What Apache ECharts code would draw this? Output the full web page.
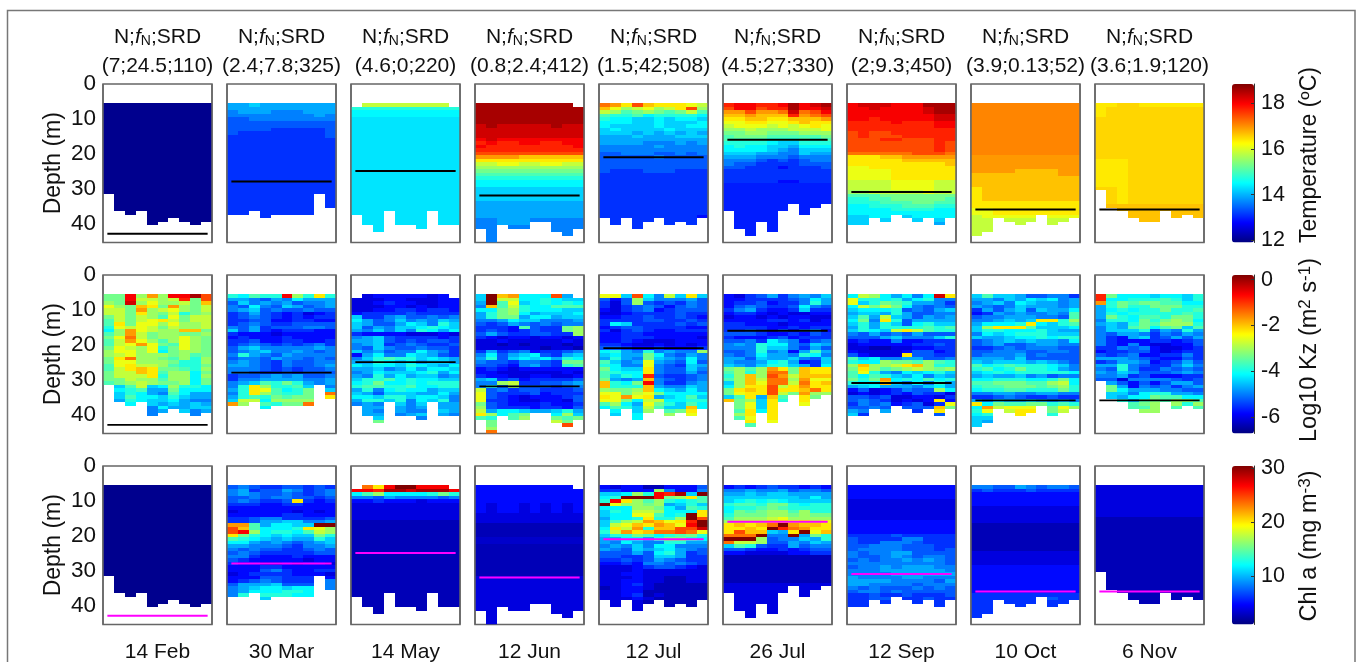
<!DOCTYPE html>
<html>
<head>
<meta charset="utf-8">
<style>html,body{margin:0;padding:0;background:#fff}#c{width:1358px;height:662px}</style>
<script src="https://cdn.jsdelivr.net/npm/echarts@6/dist/echarts.min.js"></script>
</head>
<body>
<div id="c"></div>
<script>
// Dates, header values and depths
const dates = ['14 Feb','30 Mar','14 May','12 Jun','12 Jul','26 Jul','12 Sep','10 Oct','6 Nov'];
const headerValues = ['(7;24.5;110)','(2.4;7.8;325)','(4.6;0;220)','(0.8;2.4;412)','(1.5;42;508)','(4.5;27;330)','(2;9.3;450)','(3.9;0.13;52)','(3.6;1.9;120)'];
const srdLineDepth = [43,28,25,32,21,16,31,36,36];
const srdLineSpan = [0.4,9.6];
const depthTicks = [0,10,20,30,40];
const surfaceDepth = [
 [5.5,5.5,5.5,5.5,5.5,5.5,5.5,5.5,5.5,5.5],[5.5,5.5,5.5,5.5,5.5,5.5,5.5,5.5,5.5,5.5],
 [6.5,5.5,5.5,5.5,5.5,5.5,5.5,5.5,5.5,6.5],[5.5,5.5,5.5,5.5,5.5,5.5,5.5,5.5,5.5,6.5],
 [5.5,5.5,5.5,5.5,5.5,5.5,5.5,5.5,5.5,5.5],[5.5,5.5,5.5,5.5,5.5,5.5,5.5,5.5,5.5,5.5],
 [5.5,5.5,5.5,5.5,5.5,5.5,5.5,5.5,5.5,5.5],[5.5,5.5,5.5,5.5,5.5,5.5,5.5,5.5,5.5,5.5],
 [5.5,5.5,5.5,5.5,5.5,5.5,5.5,5.5,5.5,5.5]];
const bottomDepth = [
 [31.5,36.5,37.5,36.5,40.5,39.5,38.5,39.5,40.5,39.5],
 [37.5,37.5,36.5,38.5,37.5,37.5,37.5,37.5,31.5,35.5],
 [37.5,40.5,42.5,36.5,40.5,40.5,41.5,36.5,40.5,40.5],
 [41.5,45.5,40.5,41.5,41.5,39.5,39.5,42.5,43.5,41.5],
 [38.5,40.5,38.5,41.5,39.5,38.5,40.5,39.5,40.5,38.5],
 [36.5,41.5,43.5,39.5,42.5,36.5,34.5,37.5,35.5,34.5],
 [40.5,40.5,38.5,39.5,37.5,38.5,39.5,38.5,40.5,38.5],
 [43.5,42.5,38.5,39.5,40.5,39.5,37.5,40.5,39.5,38.5],
 [30.5,35.5,36.5,38.5,39.5,39.5,36.5,38.5,37.5,38.5]];

// Cell values: one letter per 1 m depth bin and profile, a (lowest) to z (highest) of each row's colour range;
// a capital sits half a step above its lower-case letter.
// "abc*3" repeats a row; a single letter fills the whole row.
const T_14Feb=['a*40'];
const T_30Mar=['hhihhhhhhh','hhhhhhhhhh','ghhhggghhh','gggggggghg','ffgggggggg','f*2','ffffeeeeef','feeeeeeeef','eeeeeeeeef','e*30'];
const T_14May=['o','k','j','j','I*36'];
const T_12Jun=['yyyyyyyyyy*6','xyxxxxxyxx','xxxxxxxxxx*3','wxwwwwwwww','vwvvwwvvww','wvvvvvvvvw','vvvvvvvvvv','uuuuuuuuuu','ssssrrrrrr','qqqqqqqqqq','ooppooppoo','n','m','l','k','j','j','i*4','h*5','gghhhggggg*2','g*8'];
const T_12Jul=['tsqurqqqpo','rpnopnoqun','onlmnmlmol','lkkljkkkkj','kjjiijijji','jjjiijiiij','jiiiijiijj','ijiiiijiii','iiihihihih','hhhihhhiii','hhhhhhhhhh','hhhhggghgh','ggggghgggg','gggggggggg','ffgggffgfg','fffffgffff','f*3','feeefffeee','e*12','eeeeeeeeed*4','D*10'];
const T_26Jul=['vwwvvwywxy','uwwuvvywwx','ssusstxtuw','rrsrrrvstu','qqrrqqrrrs','ppqqppqrqq','opppopopqp','nnonnnooop','mmnnmmmnnn','lmmmlllllm','llllkkklkl','kkkkjiikkk','jkjjiihjjj','jjjjihgiii','iiihhggihh','hhhgggfggg','gggfefefgg','gffeeeefff','ffeeedeeef','e*3','eeeeeddeee','D*19'];
const T_12Sep=['wxxxwwwyyy','wwxwwwwxyy','wwwwwwwxyy','wwwwwwwwxx','wwvwwwwwxx','vvvvwvvvww','vvvvvvvvww','vvvvvvvvvv','uvuuvvvvvv','uvuuuvvvvv','uuuvvuuuvv','uuuuuuuuvu*3','ttttttuuut','qqqrrsssss','qqqqqrrrrr','qqqqqqqqqr','ppqqqqqqqq','ppppqqqqqq*3','ooooppppoo*3','nnooooopoo','lllmmmmmmm','kkllmmmmml','kkklllmmll','jjkkklllkk','jjjjkkkkjj','jjjjjjjjjj','iijjiijjjj','iiiiiiiiii','iiiihiiihi*7'];
const T_10Oct=['S*15','s*4','ssssrrrrss','rrrrrrrrss','r*3','qrrrrrrrrr*4','qqqqqqqqqq*2','ppqqqqqqqq*2','oppppppppp','o*10'];
const T_6Nov=['qqQQqqqqqq','qQQQQQQQQQ*3','Q*12','qqqQQQQQQQ*8','QQqQQQQQQQ*5','r*11'];
const K_14Feb=['mmwnsnwwyu','mmwoonovmu','nmxnpnnomr','pnmrqmsnmo','oomsnopnmo','oomqnmokmn','momonlpmoo','lomopqomoo','lqmppnpnno','kpopomonno','jnsponnrrm','lnsomnnmmn','mptomnnpnm','lospnlnpnm','lopspmlpnm','mponpkmpnm','nppnpjmnnm','nopnnnmnlm','mqtnnmlnkn','mppnnnmkkn','lpqoonlkkm','loqrqmmlkn','moorqlnnjm','moooqknnjn','mmonnlnnjm','lmnonmmnjm','xiloijnkkj','xjklhhmjjj','xikjhgljhh','xiljjikihh','xhkjiijhgg','xxjiihihih','xxxggjhhii','xxxgghhigh','xxxggghhgh','xxxghhxhgh'];
const K_30Mar=['kjlkkwnkqk','hhgfhgjhhh','fighghfggh','gfjgfihfgh','ghifgffgff','efhfedecde','efgfededee','eeffddeedd','efgfeeffff','gfhefffggf','ifhedeeedd','edddcddddd','dedddedddd','eefddeedde','efgfefefge','fhiggggghg','fghigghgfg','gkhgfhgggg','fggfhggfgf','ghgfegffgg','hhgfegffgh','gggfefeffg','ggfeefefff','effghghffg','egghhhhggh','ghilkmkhgh','gkqnkklixg','hkqpljkmxi','gkqnlkkmxt','hklkmlmmxq','ioojnnnnxx','snnlkmmtxx','xxxjxxxxxx'];
const K_14May=['xcdddddcdx','cccddcccdd','ccdeddccdd','cccddcdcdd','ccddeedeed','deeeefeeee','ieeghffgfg','jhfgighgih','ihffhjigki','ifhgiijkji','hgigigkjhj','eddddcccdc','ghifeeeede','hhifefeffe','ghiefgfeef','gfigffgffe','ighfggjhge','dhjggjihfe','giklkkijih','hhkjijhiih','jijjikjihj','hhighjhjji','ghjiiijkhj','hgkhjhiigh','ikkljkjjii','jkmjjkjkkk','kllkkljjkk','hkgjkjjhii','ihfiiihhjh','jjikkijjig','hkkikgjikg','ghgjigiihh','xhhxhghhhh','xhgxhgghih','xhhxghiihg','xxixxxgxxx','xxmxxxxxxx'];
const K_12Jun=['izrsjjjuhx','izoojjkjii','hzlpijkjkj','grlokjjlll','jjmnkjjjii','hkmnjhiiij','hkmmhjjhii','gghjiigggh','fefhgfgfgg','eeedlfeemn','efedefeemn','fhfeeffeen','edcddcddcd','ccdcccccdc','ccbcbcccbc','ccccccbccb','ehefgdeefg','gjfhijfehi','hkfijijhkj','gffeggfemm','ffedghfekl','dedcdddddd','ddccccccdc','eddccddccd','hiefdeeeef','ggnoeeffgh','gkfnfffefg','ofgeffeeef','pfeeefdeee','pfedcdddef','peedccddcf','mfedddedde','nfeeedeedf','ohjjihhikh','qnjlmlkjni','lkklnonmlm','xmxxxxxomx','xmxxxxxxux','xnxxxxxxxx','xtxxxxxxxx'];
const K_12Jul=['ppiujgoiqi','fdfniggghf','ecfnfefegf','ecefgfdfgf','dcefgdefff','ccdeeeefee','ddeefeefed','eeeeffeefe','ejieeeefef','deffeeeedd','ecefeddeee','ddeedddddd','ddeeeddddc','ddedcccddd','eedccdcdcd','ffeddeddde','jkhgkghggn','ijhhmjgfhg','hkhgmihgjg','lighphgfjf','kjggpgfeih','mjiiqgffig','lkjjqgffhf','likjvfeefg','mhghrgfefg','rkjmwgeegh','rkkkrhggih','nmmnrjihjh','ppmopmjjjj','qpspqhijli','ppmjoojjkk','lnjhpmkilj','jlkioliirj','ijxinxlmqx','xixjxxnxpx','xxxjxxxxxx'];
const K_26Jul=['dcefheghgi','ddeeeefgjh','deefdeegkh','dfgfeefjgf','egheddeiee','deedcdccdd','cddcdcddcc','ddddeedecd','eedddcdddd','eeeeddedee','eefedfdfgd','fffeddedfe','edddefdeee','ffgejhgdfg','ghgkjjgfih','gggkiigehf','ffgkghdhlh','gfgjhhgkjg','hhfihhigfi','hgghjkhdei','ihgikkihej','mnlnsqmrqq','lnknttmrqq','knrnusorrr','lnrottnspp','inrpttotqr','jnqquoqsqq','mqrquqqrtq','mpqquomsnn','ilqhrlnqmk','rmniqkxqox','xmpiqkxpxx','xmpiqkxxxx','xlqjqxxxxx','xnqxqxxxxx','xlpxqxxxxx','xxqxpxxxxx','xxlxxxxxxx'];
const K_12Sep=['jonjhjgjxq','pkkjkhjkgg','pikmlkhhge','jomomjgfgf','ijjjkfgfhi','hiihkhffgg','ilhoihfhgh','jmgqkfhhhh','ikhkifjkii','hkhkkkklkl','ikjioqolkk','gfhfgfhfff','fffhigggik','deddgddeee','cdddddeefe','ccbbccddee','dccccdffde','fdcccqffee','lijgghhffg','kjjnmmlnlk','nrnnoqrnkk','mqnlmnonmn','lpkhgjijki','ljlkihjgih','mkmsjkjljk','kjjrigjgkh','hijhhhgijh','dfcdegffnj','cdcdedfeec','ffefccddce','fgfecdcdqd','egfgdefcep','ffgfhfffrm','hgghfgeeqi','iegfggfffh'];
const K_10Oct=['iliihffgge','hhgihjijgh','ghigjihhgh','hgfgihhhgh','ehfhifihhj','dehghgghgl','fgghhhggfl','gghihiqqkn','hjjjkqjikl','inqqqliiij','ikkjjjkihh','gjijkkkiii','ihhijjkjkk','fghihihhgj','fghffghhgg','eefgfgggff','ffgggffggf','fggghfgfff','hhhgifffff','ihiiihihgf','ljklkkkjig','kljkmkkjhg','ijkjkkkkkj','hihhighfgg','jjkkkjjkmj','llmmmllnoj','kllmmmlmnk','jkkllkkkmk','gghhgghhgg','eefgfeefee','hgihhihghg','qjmllmmklk','jsopppqmpn','kpxoqqxmox','jkxxqxxkxx','iixxxxxxxx','ihxxxxxxxx','ixxxxxxxxx'];
const K_6Nov=['vmjjjijjik','vjjkkklkik','skmlmmlljj','hkmkkmmmkk','hjkjkkmkkl','hkjkkkkklk','hmkjllkmmk','gkkjmkmnmj','hihkmlnnnk','gihlmjlmil','giiikfhgkh','gfhhgegfhg','gedhiefhfh','gedddeedef','gedgdccddf','eegfgdccde','deeffdcdee','fefgddeege','hhhgfeddfe','efhhgdefhf','hhkgfeegig','gfkgeegfgf','hgihfffghg','gghefdddee','ffcggggfef','hhfdfdfhhf','xmhdgfgegh','xmjhhhggff','xiigjkkhhg','xihjjmlljj','xkkhlmlnnl','xxklmnxnkn','xxxllnxljl','xxxlnnxxxx'];
const C_14Feb=['a*40'];
const C_30Mar=['fgfeeffefe','gheffhgefg','ghgffgfefg','ffgfggffef','fgfeefqede','eeeddeeddd','d*1','cdddddcdcd','dddddeeddd','eefggeeeef','eefhhiiggh','sslhjjiizz','urljjjkqpn','uwnjkkjlon','qmkjijiimk','lkjihihhki','jjhghgfghi','hhgggfeggh','gfgffeefgf','fgfeeeeeff','ggedddeddd','fedddddcdd','eddccdcddc','dddeeddddd','dddfgeddee','cdeeeedddc','dddffeeeed','defgfeeeeg','fhhhifffxg','ghijjijjxg','ghjjjkkjxh','gkkkkkjjxx','xxxixxxxxx'];
const C_14May=['xtqwzzwwwx','wwvyyxyyyw','jlnjjjjkmk','ggfhggggfg','ddedddcddd','c*5','b*30'];
const C_12Jun=['d*5','dcddcdcdcd*3','c*3','b*4','B*2','b*9','c*14'];
const C_12Jul=['dcddbbdddf','eedddngddg','iijnkwvyiz','jkzzzwmnql','kwqnlnkjkl','zpnnmnhiki','jjjnnmjhlk','ikjoonjjjq','ijjppljkzq','hjjkqkknzu','ilnosrpqvz','ioprqsrpwz','jqoskrruux','kosqrttutp','ikkmljklmk','hhjjhkmmkj','hgjhggkkhh','ghgigjjggg','hgfihijhgf','fffhfjkhef','ffeefiihee','eefefhgfee','ddedggfgfe','cccdeffedc','cccdcccccc','ccddcccccc','cccdccbbcc','ccddccbbcc','ccdecbbbbb','bcddcbbbbb','ccddbbbbbb','ccdebcbbbb','cccdcbbbbb','ccccbbbbbb','xcccbxbbbx','xxxcxxxxxx'];
const C_26Jul=['dedefeeded','gghgghfggf','hhihiihhhh','iiiiiiihjh','ijkjkjiiii','kllkmmkjkk','jkklmlkkkk','jmlmnnlnkk','kmmmnnmnmm','lnnnopnnnn','noooqqpqop','qrqrtzsrrq','qqrqzvtsqq','qurrihqzpr','tttzggzhmk','zzznfggihk','toonffhgih','ilkfeehfgg','ffeddedeff','ddccccddee','b*8','c*10'];
const C_12Sep=['d*4','c*6','d*4','eeeefeeeee','feeeeggeee','feegggfeee','ffgggfffee','fggggfffef','gfgghhffff','gffghgfggf','fgfgghghgf','gggggggggf','fgghghhhgg','ggghhhhhhg','gggghhhhhh','hgggghhggg','hhhhggggfh','hhggggfggg','gfgfffgfgf','fggfgfffff','eefeefeeef','eeffeeefee','e*3'];
const C_10Oct=['ggffhgfggf','efeeefeeee','d*4','c*5','b*8','c*4','d*8','e','eeeeeeefee','e*6'];
const C_6Nov=['c*9','b*31'];

const tempPanels=[T_14Feb,T_30Mar,T_14May,T_12Jun,T_12Jul,T_26Jul,T_12Sep,T_10Oct,T_6Nov];
const kzPanels=[K_14Feb,K_30Mar,K_14May,K_12Jun,K_12Jul,K_26Jul,K_12Sep,K_10Oct,K_6Nov];
const chlPanels=[C_14Feb,C_30Mar,C_14May,C_12Jun,C_12Jul,C_26Jul,C_12Sep,C_10Oct,C_6Nov];

const rowsInfo=[
 {panels:tempPanels,min:11.9,max:18.85,ticks:[12,14,16,18],top:84,line:'#000000',lw:2},
 {panels:kzPanels,min:-6.7,max:0.2,ticks:[-6,-4,-2,0],top:275,line:'#000000',lw:1.8},
 {panels:chlPanels,min:0.95,max:30.4,ticks:[10,20,30],top:466,line:'#ff00ff',lw:2}
];
const jet=['#00007f','#0000ff','#007fff','#00ffff','#7fff7f','#ffff00','#ff7f00','#ff0000','#7f0000'];
const PW=109,PH=158.5,LEFT0=103,STEP=124,FONT='"Liberation Sans",Arial,sans-serif',INK='#111';

function level(ch){
  const code=ch.charCodeAt(0);
  return code>=97?code-97:code-65+0.5;
}
function decode(tokens,info,p){
  const out=[];let r=0;
  tokens.forEach(tok=>{
    const parts=tok.split('*');const s=parts[0];const n=parts.length>1?+parts[1]:1;
    for(let k=0;k<n;k++,r++){
      for(let c=0;c<10;c++){
        const ch=s.length===1?s:s.charAt(c);
        const top=5.5+r;
        if(!ch||top<surfaceDepth[p][c]||top>=bottomDepth[p][c])continue;
        const f=0.015+level(ch)/25*0.985;
        out.push([c,top,info.min+f*(info.max-info.min)]);
      }
    }
  });
  return out;
}
function renderCell(params,api){
  const a=api.coord([api.value(0),api.value(1)]);
  const b=api.coord([api.value(0)+1,api.value(1)+1]);
  const x=Math.round(a[0]),y=Math.round(a[1]);
  const r=echarts.graphic.clipRectByRect({x:x,y:y,width:Math.round(b[0])-x,height:Math.round(b[1])-y},
    {x:params.coordSys.x,y:params.coordSys.y,width:params.coordSys.width,height:params.coordSys.height});
  return r&&{type:'rect',shape:r,style:{fill:api.visual('color')}};
}
const grid=[],xAxis=[],yAxis=[],series=[],title=[],visualMap=[];
rowsInfo.forEach((info,ri)=>{
  const cellSeries=[];
  info.panels.forEach((tokens,p)=>{
    const gi=grid.length;
    grid.push({left:LEFT0+STEP*p,top:info.top,width:PW,height:PH,show:true,borderColor:'#666',borderWidth:1.5,backgroundColor:'#fff'});
    xAxis.push({gridIndex:gi,type:'value',min:0,max:10,interval:10,z:3,axisLabel:{show:false},axisTick:{show:false},
      axisLine:{show:false},splitLine:{show:true,lineStyle:{color:'#666',width:1.5}}});
    yAxis.push({gridIndex:gi,type:'value',inverse:true,min:0,max:45.5,interval:10,
      axisTick:{show:false},axisLine:{show:false},splitLine:{show:false},
      axisLabel:{show:p===0,showMaxLabel:false,margin:7,fontFamily:FONT,fontSize:22.5,color:INK,
        formatter:v=>depthTicks.includes(v)?String(v):''},
      name:p===0?'Depth (m)':'',nameLocation:'middle',nameGap:38,nameRotate:90,
      nameTextStyle:{fontFamily:FONT,fontSize:23,color:INK}});
    cellSeries.push(series.length);
    series.push({type:'custom',xAxisIndex:gi,yAxisIndex:gi,coordinateSystem:'cartesian2d',renderItem:renderCell,
      silent:true,clip:true,animation:false,encode:{x:0,y:1},dimensions:['col','depth','value'],data:decode(tokens,info,p)});
    series.push({type:'line',xAxisIndex:gi,yAxisIndex:gi,symbol:'none',silent:true,animation:false,z:5,
      lineStyle:{color:info.line,width:info.lw},
      data:[[srdLineSpan[0],srdLineDepth[p]],[srdLineSpan[1],srdLineDepth[p]]]});
  });
  visualMap.push({type:'continuous',seriesIndex:cellSeries,dimension:2,min:info.min,max:info.max,
    left:1232,top:info.top,itemWidth:22,itemHeight:PH,padding:0,calculable:false,hoverLink:false,
    text:null,showLabel:false,inRange:{color:jet},outOfRange:{color:'#fff'},textStyle:{color:'transparent',fontSize:1}});
  // colour-bar axis
  const gi=grid.length;
  grid.push({left:1232,top:info.top,width:22,height:PH,show:false});
  xAxis.push({gridIndex:gi,type:'value',min:0,max:1,show:false});
  yAxis.push({gridIndex:gi,type:'value',position:'right',min:info.min,max:info.max,z:6,
    interval:ri===2?10:2,
    axisLine:{show:true,onZero:false,lineStyle:{color:'#333',width:1}},
    axisTick:{show:true,inside:true,length:3,lineStyle:{color:'#333'},customValues:info.ticks},
    axisLabel:{show:true,margin:7,fontFamily:FONT,fontSize:21.5,color:INK,customValues:info.ticks,
      formatter:v=>String(v)},
    splitLine:{show:false}});
});
dates.forEach((d,p)=>{
  const cx=LEFT0+STEP*p+PW/2;
  title.push({left:cx,top:27,textAlign:'center',padding:0,
    text:'{a|N;}{f|f}{s|N}{a|;SRD}',
    textStyle:{fontWeight:'normal',rich:{a:{fontFamily:FONT,fontSize:21,fontWeight:'normal',color:INK},
      f:{fontFamily:FONT,fontSize:21,fontStyle:'italic',fontWeight:'normal',color:INK},
      s:{fontFamily:FONT,fontSize:14,fontWeight:'normal',color:INK,verticalAlign:'bottom',padding:[7,0,0,0]}}}});
  title.push({left:cx,top:56,textAlign:'center',padding:0,text:headerValues[p],
    textStyle:{fontFamily:FONT,fontSize:21,fontWeight:'normal',color:INK}});
  title.push({left:cx,top:642,textAlign:'center',padding:0,text:d,
    textStyle:{fontFamily:FONT,fontSize:21,fontWeight:'normal',color:INK}});
});
const rotText=(x,y,rich,text)=>({type:'text',x:x,y:y,rotation:Math.PI/2,z:10,
  style:{text:text,align:'center',verticalAlign:'middle',fontFamily:FONT,fontSize:23,fill:INK,rich:rich}});
const tn={fontFamily:FONT,fontSize:23.5,color:INK};
const sup={fontFamily:FONT,fontSize:17,color:INK,verticalAlign:'top',padding:[0,0,9,0]};
const graphic=[
  {type:'rect',z:0,shape:{x:7.5,y:10.5,width:1347.5,height:700},style:{fill:'none',stroke:'#777',lineWidth:1.5}},
  rotText(1310,155,{},'Temperature (ºC)'),
  rotText(1310,350,{t:tn,u:sup},'{t|Log10 Kz (m}{u|2}{t| s}{u|-1}{t|)}'),
  rotText(1310,546,{t:tn,u:sup},'{t|Chl a (mg m}{u|-3}{t|)}')
];
const chart=echarts.init(document.getElementById('c'),null,{renderer:'canvas'});
chart.setOption({backgroundColor:'#fff',animation:false,grid,xAxis,yAxis,series,title,visualMap,graphic,tooltip:{show:false}});
</script>
</body>
</html>
